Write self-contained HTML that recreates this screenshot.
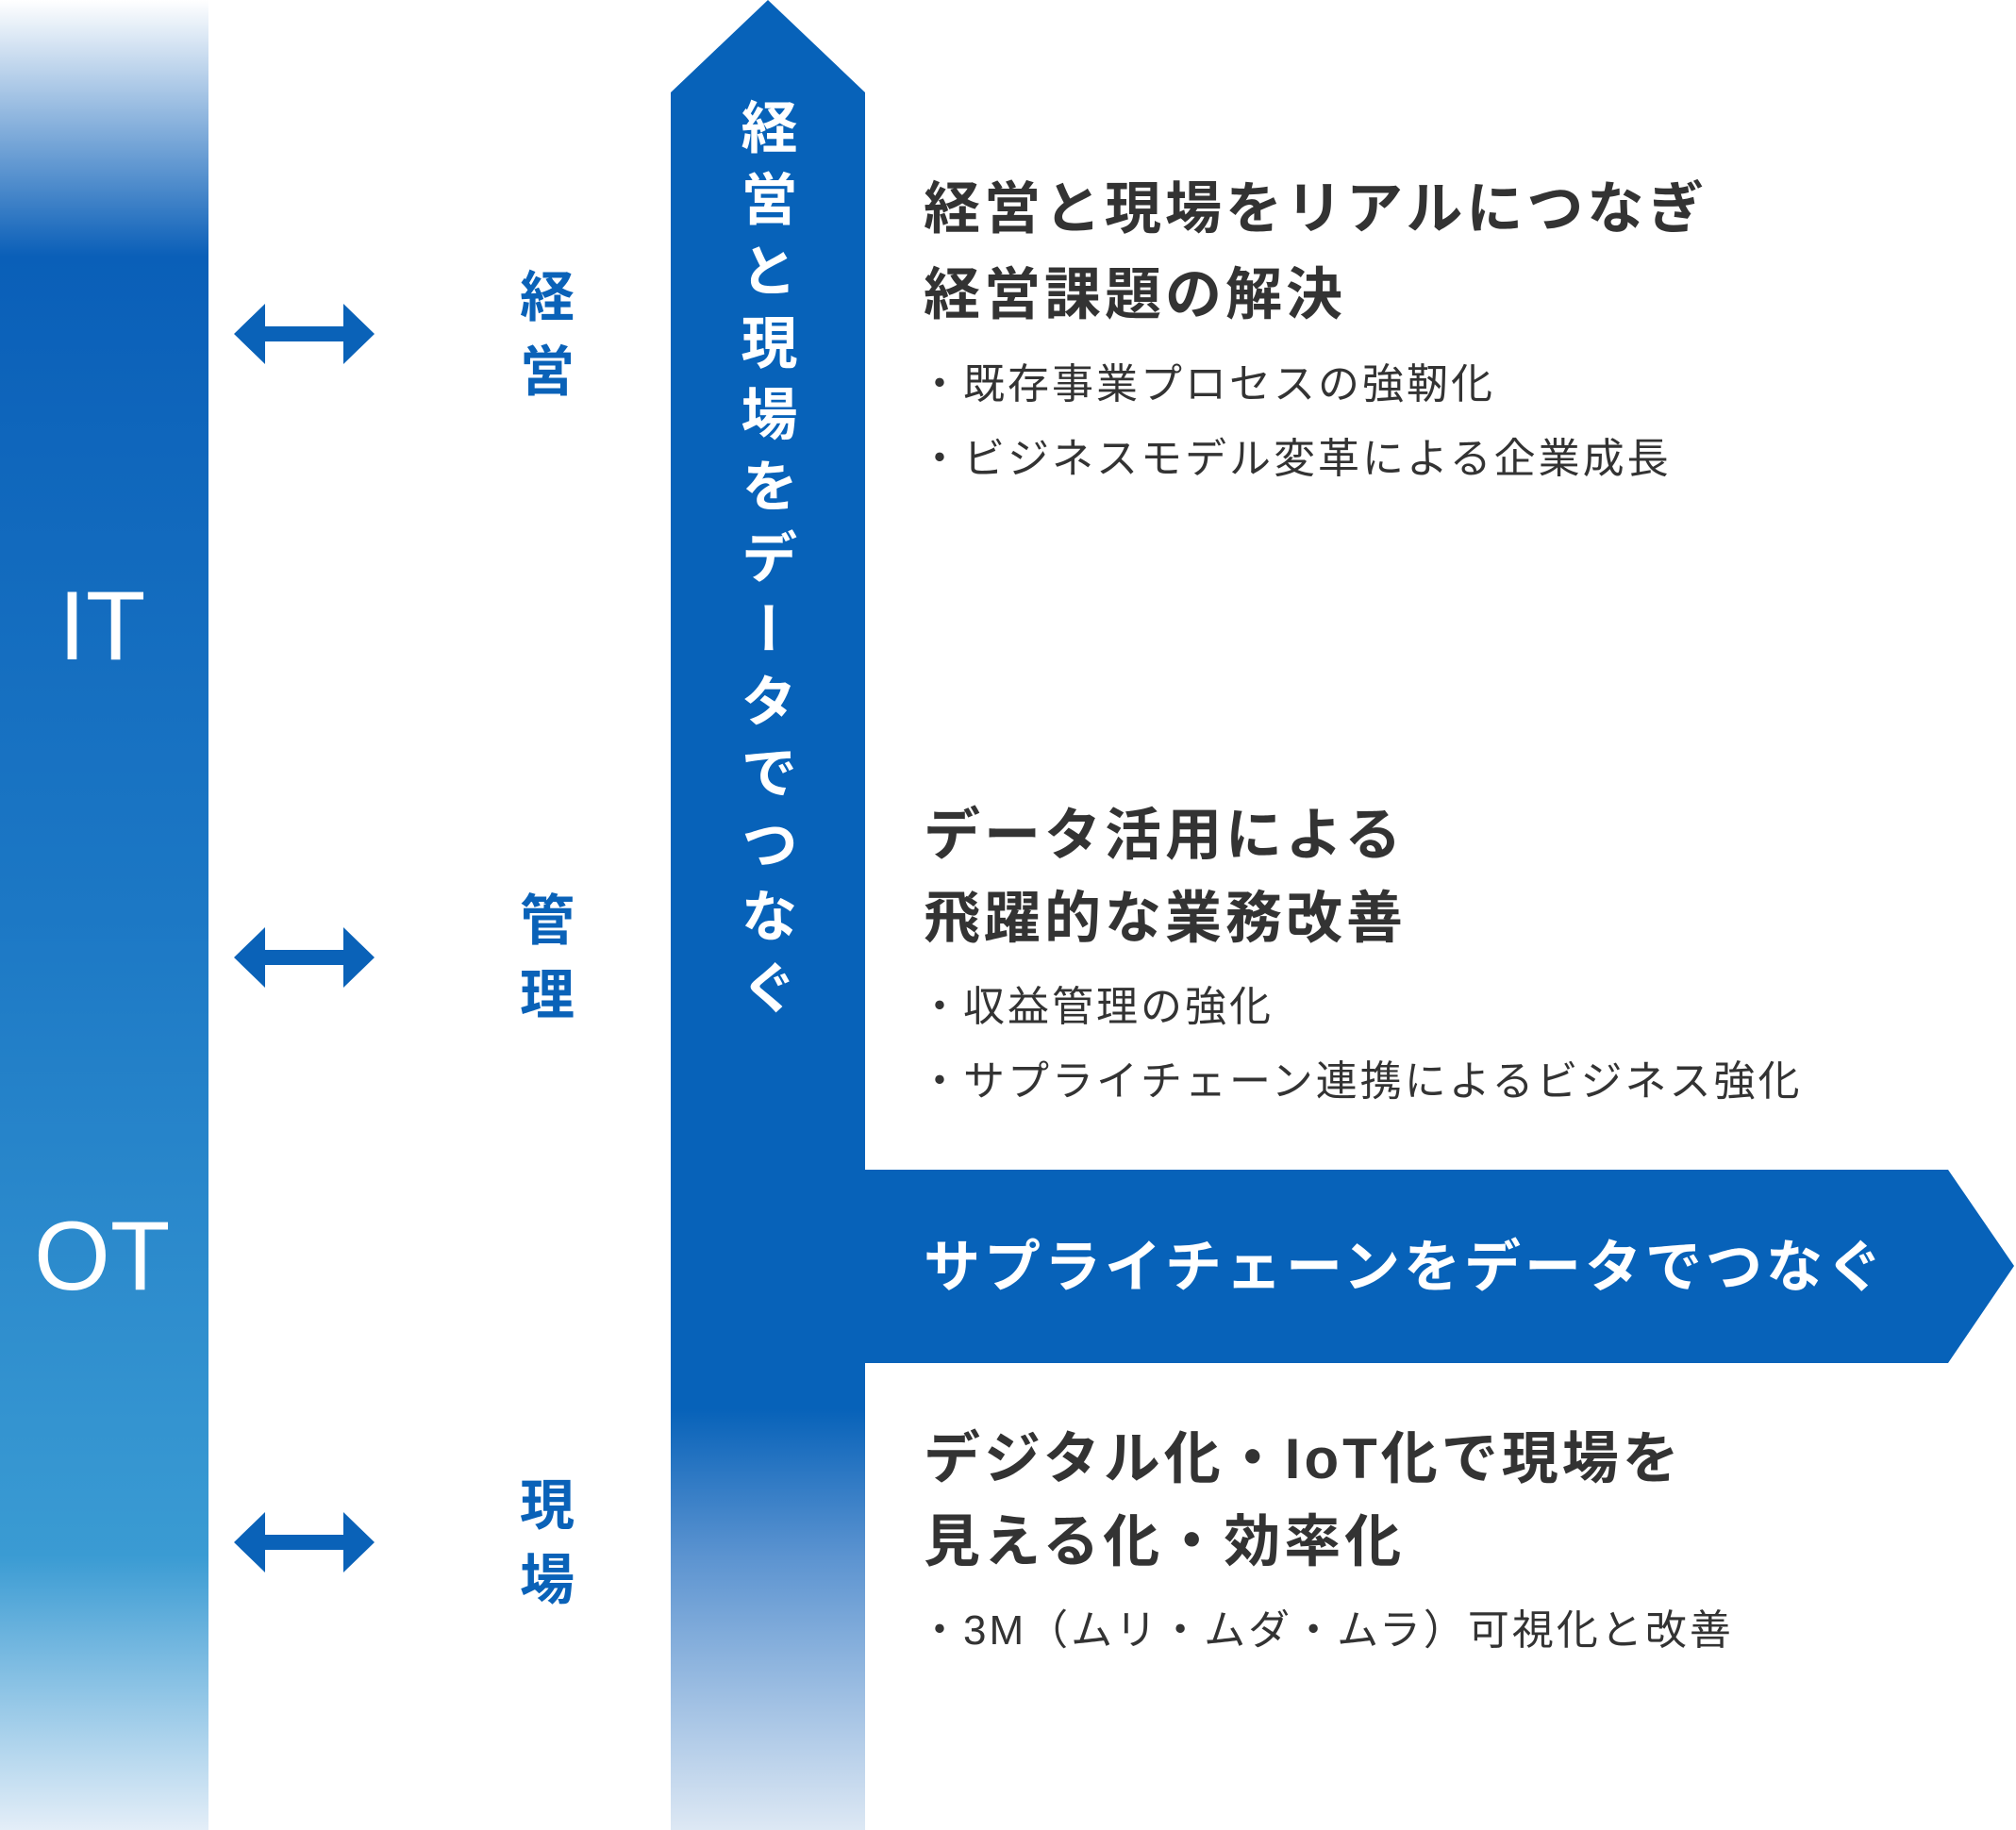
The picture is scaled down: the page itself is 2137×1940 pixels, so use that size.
<!DOCTYPE html>
<html><head><meta charset="utf-8"><style>
html,body{margin:0;padding:0;background:#fff;}
#c{position:relative;width:2137px;height:1940px;overflow:hidden;font-family:"Liberation Sans","Noto Sans CJK JP",sans-serif;}
.t{position:absolute;white-space:nowrap;}
.h{font-weight:bold;font-size:60px;color:#333;letter-spacing:4px;line-height:1;}
.b{font-size:44px;color:#333;letter-spacing:3px;line-height:1;}
.lab{font-weight:bold;font-size:58px;color:#0a62b8;line-height:79px;width:70px;text-align:center;}
.big{color:#fff;font-size:104px;line-height:1;}
</style></head><body><div id="c">
<svg width="2137" height="1940" style="position:absolute;left:0;top:0">
<defs>
<linearGradient id="lb" x1="0" y1="0" x2="0" y2="1">
<stop offset="0" stop-color="#fff"/>
<stop offset="0.14" stop-color="#0a5fb8"/>
<stop offset="0.5" stop-color="#1c78c5"/>
<stop offset="0.85" stop-color="#3a9bd3"/>
<stop offset="1" stop-color="#e4eef8"/>
</linearGradient>
<linearGradient id="vb" x1="0" y1="0" x2="0" y2="1940" gradientUnits="userSpaceOnUse">
<stop offset="0" stop-color="#0762b9"/>
<stop offset="0.77" stop-color="#0762b9"/>
<stop offset="0.85" stop-color="#5b93d0"/>
<stop offset="1" stop-color="#dde8f4"/>
</linearGradient>
</defs>
<rect x="0" y="0" width="221" height="1940" fill="url(#lb)"/>
<polygon points="711,98 814,0 917,98 917,1940 711,1940" fill="url(#vb)"/>
<polygon points="911,1240 2065,1240 2135,1342 2065,1445 911,1445" fill="#0762b9"/>
<g fill="#0a62b8">
<polygon points="248,354 281,322 281,346 364,346 364,322 397,354 364,386 364,362 281,362 281,386"/>
<polygon points="248,1015 281,983 281,1007 364,1007 364,983 397,1015 364,1047 364,1023 281,1023 281,1047"/>
<polygon points="248,1635 281,1603 281,1627 364,1627 364,1603 397,1635 364,1667 364,1643 281,1643 281,1667"/>
</g>
</svg>
<div class="t big" style="left:62px;top:612px;">IT</div>
<div class="t big" style="left:36px;top:1280px;">OT</div>
<div class="t lab" style="left:545px;top:276px;">経<br>営</div>
<div class="t lab" style="left:545px;top:937px;">管<br>理</div>
<div class="t lab" style="left:545px;top:1557px;">現<br>場</div>
<div class="t" style="left:780px;top:104px;writing-mode:vertical-rl;font-weight:bold;font-size:60px;letter-spacing:16px;color:#fff;line-height:60px;">経営と現場をデータでつなぐ</div>
<div class="t h" style="left:979px;top:192px;">経営と現場をリアルにつなぎ</div>
<div class="t h" style="left:979px;top:283px;">経営課題の解決</div>
<div class="t b" style="left:974px;top:386px;">・既存事業プロセスの強靭化</div>
<div class="t b" style="left:974px;top:465px;">・ビジネスモデル変革による企業成長</div>
<div class="t h" style="left:979px;top:856px;">データ活用による</div>
<div class="t h" style="left:979px;top:944px;">飛躍的な業務改善</div>
<div class="t b" style="left:974px;top:1046px;">・収益管理の強化</div>
<div class="t b" style="left:974px;top:1125px;">・サプライチェーン連携によるビジネス強化</div>
<div class="t h" style="left:979px;top:1314px;color:#fff;">サプライチェーンをデータでつなぐ</div>
<div class="t h" style="left:979px;top:1517px;">デジタル化・IoT化で現場を</div>
<div class="t h" style="left:979px;top:1605px;">見える化・効率化</div>
<div class="t b" style="left:974px;top:1707px;">・3M（ムリ・ムダ・ムラ）可視化と改善</div>
</div></body></html>
